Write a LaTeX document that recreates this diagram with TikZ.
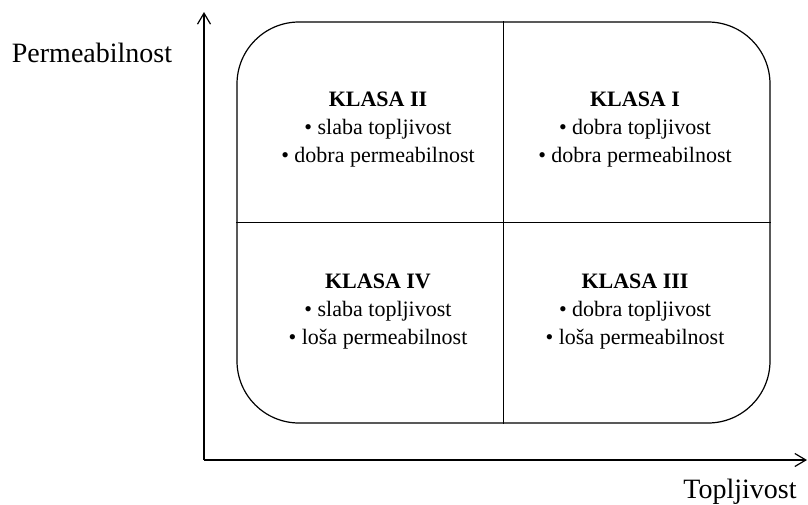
\documentclass[tikz,border=0pt]{standalone}
\usepackage{fontspec}
\setmainfont{Liberation Serif}
\usetikzlibrary{arrows.meta}

\begin{document}
\begin{tikzpicture}[x=0.5pt, y=-0.5pt, line width=0.6pt,
		>={Straight Barb[length=5.5pt, width=6.5pt]},
		klasa/.style={align=center, font=\fontsize{11}{14}\selectfont},
		osa/.style={anchor=base, font=\fontsize{14}{16}\selectfont}]
			\useasboundingbox (0,0) rectangle (808,504);
			
			\coordinate (o) at (204,460);
			\coordinate (ytop) at (204,12);
			\coordinate (xend) at (807,460);
			
			\node[osa] (perm) at (92,62) {Permeabilnost};
			\node[osa] (topl) at (740,498) {Topljivost};
			
			\node[draw, rounded corners=31pt, minimum width=266.5pt, minimum height=200.5pt, inner sep=0pt] (box) at (503.5,222.5) {};
			
			\node[klasa] (k2) at (378,130) {\textbf{KLASA II}\\• slaba topljivost\\• dobra permeabilnost};
			\node[klasa] (k1) at (635,130) {\textbf{KLASA I}\\• dobra topljivost\\• dobra permeabilnost};
			\node[klasa] (k4) at (378,312) {\textbf{KLASA IV}\\• slaba topljivost\\• loša permeabilnost};
			\node[klasa] (k3) at (635,312) {\textbf{KLASA III}\\• dobra topljivost\\• loša permeabilnost};
			
			\draw[->] (o) -- (ytop);
			\draw[->] (o) -- (xend);
			
			\draw (box.north) -- (box.south);
			\draw (box.west) -- (box.east);
			
		\end{tikzpicture}
\end{document}
